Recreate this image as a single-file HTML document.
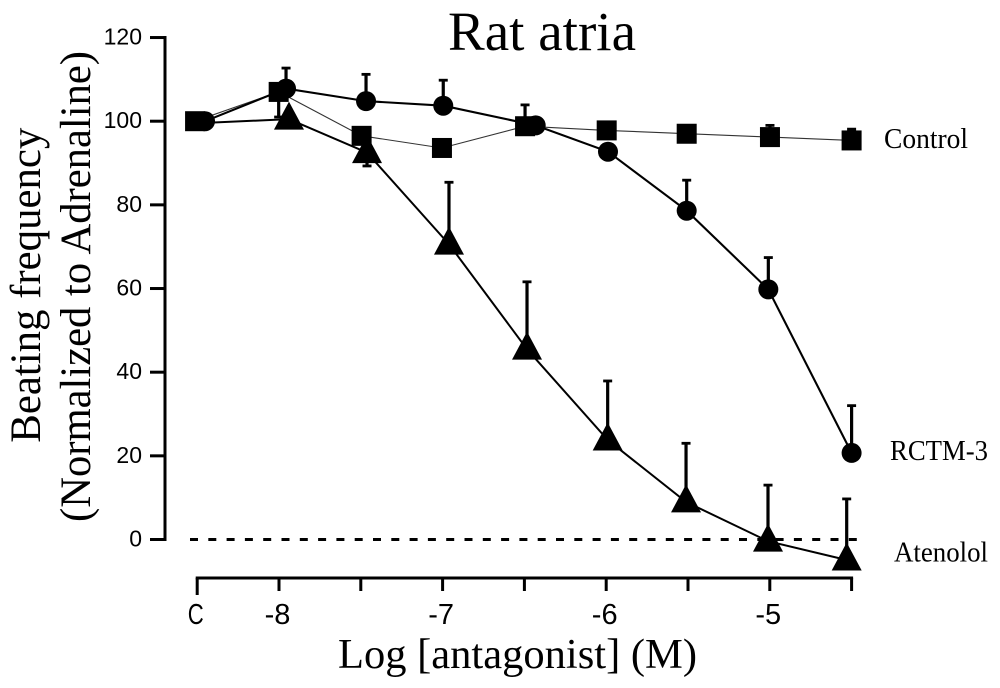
<!DOCTYPE html>
<html lang="en">
<head>
<meta charset="utf-8">
<title>Rat atria</title>
<style>
html,body{margin:0;padding:0;background:#fff;}
svg{display:block;}
.serif{font-family:"Liberation Serif",serif;fill:#000;}
.tick{font-family:"Liberation Sans",sans-serif;font-size:23px;fill:#000;}
.xtick{font-family:"Liberation Sans",sans-serif;font-size:29px;fill:#000;}
</style>
</head>
<body>
<svg id="chart" width="1000" height="688" viewBox="0 0 1000 688" xmlns="http://www.w3.org/2000/svg">
  <rect width="1000" height="688" fill="#fff"/>
  <text class="serif" x="448" y="50" font-size="55" textLength="188" lengthAdjust="spacingAndGlyphs">Rat atria</text>
  <text class="serif" transform="translate(40,442.7) rotate(-90)" font-size="43" textLength="315" lengthAdjust="spacingAndGlyphs">Beating frequency</text>
  <text class="serif" transform="translate(90,522) rotate(-90)" font-size="43" textLength="471" lengthAdjust="spacingAndGlyphs">(Normalized to Adrenaline)</text>
  <text class="serif" x="338" y="668" font-size="42" textLength="359" lengthAdjust="spacingAndGlyphs">Log [antagonist] (M)</text>
  <text class="serif" x="884" y="148" font-size="28" textLength="84" lengthAdjust="spacingAndGlyphs">Control</text>
  <text class="serif" x="890" y="460" font-size="28" textLength="98" lengthAdjust="spacingAndGlyphs">RCTM-3</text>
  <text class="serif" x="894" y="561.7" font-size="28" textLength="94" lengthAdjust="spacingAndGlyphs">Atenolol</text>
  <g id="axes"></g>
  <g id="marks"></g>
</svg>
<script>
// Y axis tick labels
const yTicks = [0, 20, 40, 60, 80, 100, 120];
// X axis ticks (log M); -8.5 is the control "C" slot
const xTickValues = [-8.5, -8, -7.5, -7, -6.5, -6, -5.5, -5, -4.5];
const xTickLabels = ['C', '-8', '', '-7', '', '-6', '', '-5', ''];

// Control (squares)
const controlX = [-8.513, -8.002, -7.495, -7.004, -6.496, -5.997, -5.508, -4.999, -4.5];
const controlY = [100, 107, 96.5, 93.6, 98.8, 97.8, 97, 96.2, 95.4];
const controlErrEnd = [null, 101, null, null, 103.9, null, null, 99, 98.1];

// RCTM-3 (circles)
const rctmX = [-8.452, -7.957, -7.468, -6.996, -6.431, -5.989, -5.508, -5.009, -4.5];
const rctmY = [100, 107.8, 104.8, 103.7, 99, 92.7, 78.6, 59.8, 20.7];
const rctmErrEnd = [null, 112.7, 111.2, 109.8, null, null, 85.9, 67.4, 32];

// Atenolol (triangles); the first point has its marker hidden by the others
const atenololX = [-8.45, -7.939, -7.462, -6.961, -6.484, -5.991, -5.512, -5.011, -4.53];
const atenololY = [99.6, 100.5, 92.5, 70.6, 45.5, 23.8, 9, -0.4, -4.9];
const atenololErrEnd = [null, null, 89.3, 85.4, 61.6, 37.9, 23, 13, 9.7];

const NS = 'http://www.w3.org/2000/svg';
const yPx = v => 539.5 - v * 4.183;
const xPx = v => 279 + (v + 8) * 163.6;

function make(tag, attrs, parent) {
  const el = document.createElementNS(NS, tag);
  for (const k in attrs) el.setAttribute(k, attrs[k]);
  parent.appendChild(el);
  return el;
}

const axes = document.getElementById('axes');
const marks = document.getElementById('marks');

const yAxisLine = make('line', {x1: 165, x2: 165, y1: yPx(120) - 1.5, y2: yPx(0) + 1.5, stroke: '#000', 'stroke-width': 3}, axes);



yTicks.forEach(t => {
  const tick = make('line', {x1: 150, x2: 165, y1: yPx(t), y2: yPx(t), stroke: '#000', 'stroke-width': 3}, axes);
  
  
  const label = make('text', {x: 142, y: yPx(t) + 7, 'text-anchor': 'end', class: 'tick'}, axes);
  
  
  label.textContent = t;
});

const xAxisLine = make('line', {x1: xPx(xTickValues[0]) - 1.5, x2: xPx(xTickValues[8]) + 1.5, y1: 578, y2: 578, stroke: '#000', 'stroke-width': 3}, axes);



xTickValues.forEach((t, i) => {
  const px = xPx(t);
  const tick = make('line', {x1: px, x2: px, y1: 578, y2: i === 0 ? 595 : 591, stroke: '#000', 'stroke-width': 3}, axes);
  
  
  if (xTickLabels[i]) {
    const label = make('text', {x: px - 1.5, y: 624, 'text-anchor': 'middle', class: 'xtick'}, axes);
    
    
    if (xTickLabels[i] === 'C') {
      label.setAttribute('textLength', '16');
      label.setAttribute('lengthAdjust', 'spacingAndGlyphs');
    }
    label.textContent = xTickLabels[i];
  }
});

const zeroLine = make('line', {x1: 190, x2: 860, y1: yPx(0), y2: yPx(0), stroke: '#000', 'stroke-width': 3, 'stroke-dasharray': '8 10.3'}, axes);



function drawLine(xs, ys, width, color) {
  const pts = xs.map((x, i) => xPx(x).toFixed(1) + ',' + yPx(ys[i]).toFixed(1)).join(' ');
  const line = make('polyline', {points: pts, fill: 'none', stroke: color, 'stroke-width': width}, marks);
  
  
}

function drawError(px, yFrom, yTo) {
  const stem = make('line', {x1: px, x2: px, y1: yFrom, y2: yTo, stroke: '#000', 'stroke-width': 3.2}, marks);
  
  
  const cap = make('line', {x1: px - 4.5, x2: px + 4.5, y1: yTo, y2: yTo, stroke: '#000', 'stroke-width': 2.8}, marks);
  
  
}

function drawSeriesErrors(xs, ys, ends) {
  xs.forEach((x, i) => {
    if (ends[i] === null) return;
    drawError(xPx(x), yPx(ys[i]), yPx(ends[i]));
  });
}

// Lines
drawLine(controlX, controlY, 1.1, '#333');
drawLine(rctmX, rctmY, 2.1, '#000');
drawLine(atenololX, atenololY, 2, '#000');

// Error bars
drawSeriesErrors(controlX, controlY, controlErrEnd);
drawSeriesErrors(rctmX, rctmY, rctmErrEnd);
drawSeriesErrors(atenololX, atenololY, atenololErrEnd);

// Markers
controlX.forEach((x, i) => {
  const square = make('rect', {x: xPx(x) - 10, y: yPx(controlY[i]) - 10, width: 20, height: 20, fill: '#000'}, marks);
  
  
});
rctmX.forEach((x, i) => {
  const circle = make('circle', {cx: xPx(x), cy: yPx(rctmY[i]), r: 10, fill: '#000'}, marks);
  
  
});
atenololX.forEach((x, i) => {
  if (i === 0) return;
  const cx = xPx(x), cy = yPx(atenololY[i]);
  const tri = make('polygon', {points: `${cx},${cy - 17.5} ${cx + 15},${cy + 10.5} ${cx - 15},${cy + 10.5}`, fill: '#000'}, marks);
  
  
});
</script>
</body>
</html>
